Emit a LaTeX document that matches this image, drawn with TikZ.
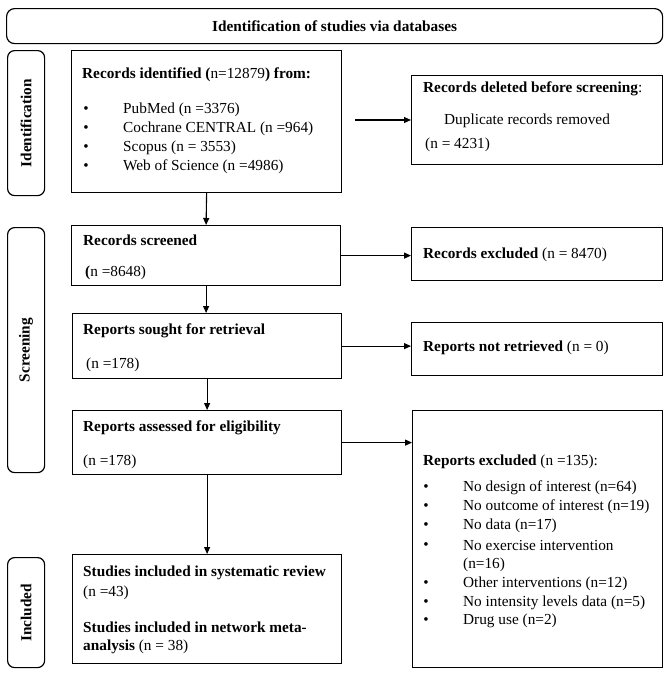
\documentclass[tikz,border=0pt]{standalone}
\usepackage{fontspec}
\setmainfont{Liberation Serif}
\usetikzlibrary{arrows.meta}
\newcommand\fs{\fontsize{15.3}{18}\selectfont}
\begin{document}
\begin{tikzpicture}[x=1pt,y=-1pt,
  box/.style={draw, line width=1.2pt, inner sep=0pt, anchor=north west},
  side/.style={box, rounded corners=7pt},
  sidetext/.style={font=\fs\bfseries, rotate=90, inner sep=0pt},
  lbl/.style={inner sep=0pt, anchor=west, font=\fs},
  bul/.style={inner sep=0pt, anchor=center, font=\fs},
  arr/.style={line width=1.1pt, -{Triangle[length=7pt,width=6pt]}}]
\useasboundingbox (0,0) rectangle (668,673);

% banner
\node[box, rounded corners=8pt, minimum width=656pt, minimum height=35pt] (ban) at (6,8) {};
\node[font=\fs\bfseries, inner sep=0pt] (bant) at (ban.center) {Identification of studies via databases};

% side labels
\node[side, minimum width=37pt, minimum height=145pt] (sid) at (7,50) {};
\node[sidetext] (sidt) at (sid.center) {Identification};
\node[side, minimum width=37pt, minimum height=245pt] (ssc) at (7,227) {};
\node[sidetext] (ssct) at (ssc.center) {Screening};
\node[side, minimum width=37pt, minimum height=110pt] (sin) at (7,557) {};
\node[sidetext] (sint) at (sin.center) {Included};

% left column boxes
\node[box, minimum width=270pt, minimum height=142pt] (rid) at (71,50) {};
\node[box, minimum width=269pt, minimum height=60pt] (rs) at (71,225) {};
\node[box, minimum width=269pt, minimum height=65pt] (rsought) at (72,313) {};
\node[box, minimum width=269pt, minimum height=64pt] (rass) at (72,410) {};
\node[box, minimum width=269pt, minimum height=109pt] (sinc) at (72,554) {};

% right column boxes
\node[box, minimum width=251pt, minimum height=89pt] (rdel) at (411,75) {};
\node[box, minimum width=251pt, minimum height=53pt] (rex) at (411,227) {};
\node[box, minimum width=251pt, minimum height=53pt] (rnr) at (411,322) {};
\node[box, minimum width=250pt, minimum height=257pt] (rexc) at (412,410) {};

% texts: records identified
\node[lbl] (t1) at (82,75) {\textbf{Records identified (}n=12879\textbf{) from:}};
\node[bul] (b11) at (86,110) {•};
\node[lbl] (t11) at (123,110) {PubMed (n =3376)};
\node[bul] (b12) at (86,129) {•};
\node[lbl] (t12) at (123,129) {Cochrane CENTRAL (n =964)};
\node[bul] (b13) at (86,148) {•};
\node[lbl] (t13) at (123,148) {Scopus (n = 3553)};
\node[bul] (b14) at (86,167) {•};
\node[lbl] (t14) at (123,167) {Web of Science (n =4986)};

% records deleted
\node[lbl] (t2) at (423,89) {\textbf{Records deleted before screening}:};
\node[lbl] (t21) at (444,121) {Duplicate records removed};
\node[lbl] (t22) at (425,145) {(n = 4231)};

% records screened
\node[lbl] (t3) at (83,240) {\textbf{Records screened}};
\node[lbl] (t31) at (85,273) {\textbf{(}n =8648)};
\node[lbl] (t4) at (423,255) {\textbf{Records excluded} (n = 8470)};

% reports sought
\node[lbl] (t5) at (83,331) {\textbf{Reports sought for retrieval}};
\node[lbl] (t51) at (86,365) {(n =178)};
\node[lbl] (t6) at (423,348) {\textbf{Reports not retrieved} (n = 0)};

% reports assessed
\node[lbl] (t7) at (83,428) {\textbf{Reports assessed for eligibility}};
\node[lbl] (t71) at (83,462) {(n =178)};

% reports excluded
\node[lbl] (t8) at (423,462) {\textbf{Reports excluded} (n =135):};
\node[bul] (b81) at (426,488) {•};
\node[lbl] (t81) at (463,488) {No design of interest (n=64)};
\node[bul] (b82) at (426,507) {•};
\node[lbl] (t82) at (463,507) {No outcome of interest (n=19)};
\node[bul] (b83) at (426,526) {•};
\node[lbl] (t83) at (463,526) {No data (n=17)};
\node[bul] (b84) at (426,546) {•};
\node[lbl] (t84) at (463,546) {No exercise intervention};
\node[lbl] (t84b) at (463,565) {(n=16)};
\node[bul] (b85) at (426,584) {•};
\node[lbl] (t85) at (463,584) {Other interventions (n=12)};
\node[bul] (b86) at (426,603) {•};
\node[lbl] (t86) at (463,603) {No intensity levels data (n=5)};
\node[bul] (b87) at (426,621) {•};
\node[lbl] (t87) at (463,621) {Drug use (n=2)};

% studies included
\node[lbl] (t9) at (83,573) {\textbf{Studies included in systematic review}};
\node[lbl] (t91) at (83,593) {(n =43)};
\node[lbl] (t92) at (83,627) {\textbf{Studies included in network meta-}};
\node[lbl] (t93) at (83,647) {\textbf{analysis} (n = 38)};

% connectors
\coordinate (c1) at (355,120);
\draw[arr] (rid.south) -- (rs.north);
\draw[arr] (c1) -- (c1 -| rdel.west);
\draw[arr] (rs.east) -- (rs.east -| rex.west);
\draw[arr] (rs.south) -- (rs.south |- rsought.north);
\draw[arr] (rsought.east) -- (rsought.east -| rnr.west);
\draw[arr] (rsought.south) -- (rsought.south |- rass.north);
\draw[arr] (rass.east) -- (rass.east -| rexc.west);
\draw[arr] (rass.south) -- (sinc.north);
\end{tikzpicture}
\end{document}
